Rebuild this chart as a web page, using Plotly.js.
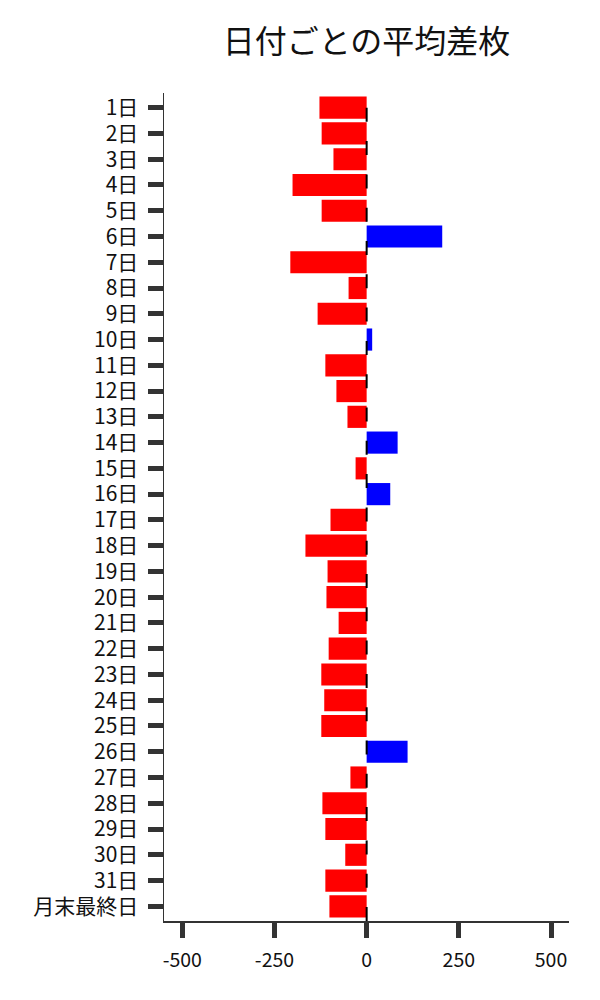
<!DOCTYPE html>
<html>
<head>
<meta charset="utf-8">
<script src="https://cdn.plot.ly/plotly-3.0.1.min.js"></script>
<style>html,body{margin:0;padding:0;background:#fff;}#chart{width:600px;height:1000px;}</style>
</head>
<body>
<div id="chart"></div>
<script>
const categories = ["1日","2日","3日","4日","5日","6日","7日","8日","9日","10日","11日","12日","13日","14日","15日","16日","17日","18日","19日","20日","21日","22日","23日","24日","25日","26日","27日","28日","29日","30日","31日","月末最終日"];
const avgDiff = [-128,-122,-90,-201,-122,205,-207,-49,-133,15,-112,-82,-52,84,-30,64,-98,-166,-106,-109,-76,-103,-123,-115,-123,111,-44,-120,-112,-58,-112,-101];
const xTickVals = [-500,-250,0,250,500];
const xTickText = ["-500","-250","0","250","500"];
const titleText = "日付ごとの平均差枚";

const FONT = "'Noto Sans CJK JP', 'Noto Sans', sans-serif";
const colors = avgDiff.map(v => v >= 0 ? "#0000ff" : "#ff0000");

const trace = {
  type: "bar",
  orientation: "h",
  y: categories,
  x: avgDiff,
  width: 0.86,
  marker: {color: colors, line: {width: 0}},
  hoverinfo: "none"
};

const layout = {
  width: 600,
  height: 1000,
  margin: {l: 164, r: 31, t: 93, b: 79, pad: 0},
  paper_bgcolor: "#ffffff",
  plot_bgcolor: "#ffffff",
  font: {family: FONT, color: "#111111", size: 20},
  showlegend: false,
  title: {
    text: titleText,
    font: {family: FONT, size: 32, color: "#111111"},
    xref: "paper", x: 0.5, xanchor: "center",
    yref: "container", y: 0.958, yanchor: "middle"
  },
  xaxis: {
    range: [-549.6, 548.8],
    tickmode: "array",
    tickvals: xTickVals,
    ticktext: xTickText,
    ticks: "outside",
    ticklen: 15,
    tickwidth: 5,
    tickcolor: "#333333",
    showline: true,
    linecolor: "#333333",
    linewidth: 1.5,
    showgrid: false,
    zeroline: false,
    tickfont: {family: FONT, size: 19.5, color: "#111111"},
    ticklabelstandoff: 6
  },
  yaxis: {
    type: "category",
    range: [31.57, -0.57],
    ticks: "outside",
    ticklen: 15,
    tickwidth: 5,
    tickcolor: "#333333",
    showline: true,
    linecolor: "#333333",
    linewidth: 1.5,
    showgrid: false,
    zeroline: false,
    tickfont: {family: FONT, size: 21, color: "#111111"},
    ticklabelstandoff: 5
  },
  shapes: [{
    type: "line",
    xref: "x", yref: "paper",
    x0: 0, x1: 0, y0: 0, y1: 1,
    layer: "above",
    line: {color: "#000000", width: 2, dash: "14px,19.3px"}
  }]
};

Plotly.newPlot("chart", [trace], layout, {staticPlot: true, displayModeBar: false});
</script>
</body>
</html>
